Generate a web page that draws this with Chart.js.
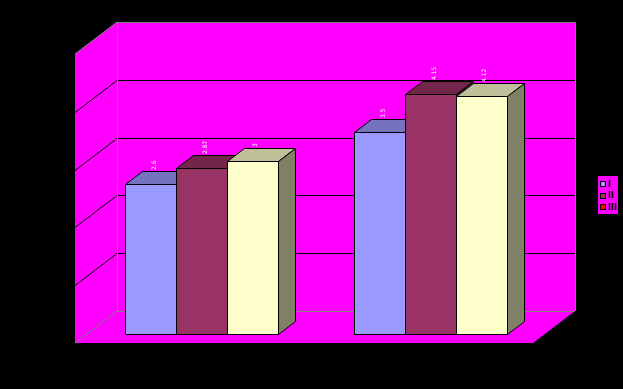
<!DOCTYPE html>
<html>
<head>
<meta charset="utf-8">
<script src="https://cdn.jsdelivr.net/npm/chart.js@4/dist/chart.umd.min.js"></script>
<style>
  html, body { margin: 0; padding: 0; background: #000; }
  canvas { display: block; }
</style>
</head>
<body>
<canvas id="c" width="623" height="389"></canvas>
<script>
const categories = ['1', '2'];
const seriesNames = ['I', 'II', 'III'];
const seriesI = [2.6, 3.5];
const seriesII = [2.87, 4.15];
const seriesIII = [3.0, 4.12];
const yTicks = [0, 1, 2, 3, 4, 5];

const frontColors = ['#9999ff', '#993366', '#ffffcc'];
const topColors = ['#7373bf', '#732649', '#bfbf99'];
const sideColors = ['#4d4d80', '#4d1a33', '#808066'];
const legendColors = ['#9999ff', '#993366', '#ff0000'];

const WALL = '#ff00ff';
const EDGE = '#808080';
const BX = 30, BY = -23;   // back wall offset from front bar plane
const FX = -12, FY = 9;    // front floor edge offset
const DX = 17, DY = -13;   // bar depth

function poly(ctx, pts, fill, stroke) {
  ctx.beginPath();
  ctx.moveTo(pts[0][0], pts[0][1]);
  for (let i = 1; i < pts.length; i++) ctx.lineTo(pts[i][0], pts[i][1]);
  ctx.closePath();
  if (fill) { ctx.fillStyle = fill; ctx.fill(); }
  if (stroke) { ctx.strokeStyle = stroke; ctx.lineWidth = 1; ctx.stroke(); }
}
function line(ctx, x1, y1, x2, y2, c) {
  ctx.beginPath();
  ctx.moveTo(x1, y1); ctx.lineTo(x2, y2);
  ctx.strokeStyle = c; ctx.lineWidth = 1; ctx.stroke();
}

const scene3d = {
  id: 'scene3d',
  beforeDraw(chart) {
    const ctx = chart.ctx;
    ctx.save();
    ctx.fillStyle = '#000';
    ctx.fillRect(0, 0, chart.width, chart.height);
    ctx.restore();
  },
  beforeDatasetsDraw(chart) {
    const ctx = chart.ctx;
    const a = chart.chartArea;
    const ys = chart.scales.y;
    const L = a.left, R = a.right;
    const T = Math.round(ys.getPixelForValue(yTicks[yTicks.length - 1]));
    const B = Math.round(ys.getPixelForValue(yTicks[0]));
    ctx.save();
    poly(ctx, [[L + BX, T + BY], [R + BX, T + BY], [R + BX, B + BY], [L + BX, B + BY]], WALL);
    poly(ctx, [[L + FX, T + FY], [L + BX, T + BY], [L + BX, B + BY], [L + FX, B + FY]], WALL);
    poly(ctx, [[L + FX, B + FY], [L + BX, B + BY], [R + BX, B + BY], [R + FX, B + FY]], WALL);
    for (let i = 1; i < yTicks.length - 1; i++) {
      const y = Math.round(ys.getPixelForValue(yTicks[i])) + 0.5;
      line(ctx, L + BX, y + BY, R + BX, y + BY, '#000');
      line(ctx, L + FX, y + FY, L + BX, y + BY, '#000');
    }
    line(ctx, L + BX + 0.5, T + BY, L + BX + 0.5, B + BY, EDGE);
    line(ctx, L + BX, T + BY + 0.5, R + BX, T + BY + 0.5, EDGE);
    line(ctx, R + BX + 0.5, T + BY, R + BX + 0.5, B + BY, EDGE);
    line(ctx, L + BX, B + BY + 0.5, R + BX, B + BY + 0.5, EDGE);
    line(ctx, L + FX, T + FY, L + BX, T + BY, EDGE);
    line(ctx, L + FX, B + FY, L + BX, B + BY, EDGE);
    ctx.restore();
  },
  afterDatasetsDraw(chart) {
    const ctx = chart.ctx;
    const n = chart.data.labels.length;
    const dsCount = chart.data.datasets.length;
    ctx.save();
    for (let j = 0; j < n; j++) {
      for (let i = 0; i < dsCount; i++) {
        const el = chart.getDatasetMeta(i).data[j];
        const l = Math.round(el.x - el.width / 2) + 0.5;
        const r = Math.round(el.x + el.width / 2) + 0.5;
        const t = Math.round(el.y) + 0.5;
        const b = Math.round(el.base) + 0.5;
        poly(ctx, [[l, t], [r, t], [r, b], [l, b]], frontColors[i], '#000');
        poly(ctx, [[l, t], [r, t], [r + DX, t + DY], [l + DX, t + DY]], topColors[i], '#000');
        poly(ctx, [[r, t], [r + DX, t + DY], [r + DX, b + DY], [r, b]], sideColors[i], '#000');
      }
    }
    // tiny rotated value labels
    for (let i = 0; i < dsCount; i++) {
      const data = chart.data.datasets[i].data;
      chart.getDatasetMeta(i).data.forEach((el, j) => {
        ctx.save();
        ctx.translate(Math.round(el.x) + 3, Math.round(el.y) + DY - 1);
        ctx.rotate(-Math.PI / 2);
        ctx.font = '6px "DejaVu Sans"';
        ctx.fillStyle = '#ffffff';
        ctx.textAlign = 'left';
        ctx.textBaseline = 'middle';
        ctx.fillText(String(data[j]), 0, 0);
        ctx.restore();
      });
    }
    ctx.restore();
  },
  afterDraw(chart) {
    const ctx = chart.ctx;
    ctx.save();
    const x0 = 598, y0 = 176, w = 20, h = 38;
    ctx.fillStyle = WALL;
    ctx.fillRect(x0, y0, w, h);
    ctx.font = 'bold 8px "DejaVu Sans"';
    ctx.textBaseline = 'middle';
    ctx.textAlign = 'left';
    chart.data.datasets.forEach((ds, i) => {
      const cy = y0 + 8 + i * 11.5;
      ctx.fillStyle = legendColors[i];
      ctx.fillRect(x0 + 2, Math.round(cy - 3), 6, 6);
      ctx.strokeStyle = '#000';
      ctx.lineWidth = 1;
      ctx.strokeRect(x0 + 2.5, Math.round(cy - 3) + 0.5, 5, 5);
      ctx.fillStyle = '#000';
      ctx.fillText(ds.label, x0 + 10, cy + 0.5);
    });
    ctx.restore();
  }
};

new Chart(document.getElementById('c'), {
  type: 'bar',
  data: {
    labels: categories,
    datasets: [
      { label: seriesNames[0], data: seriesI, backgroundColor: frontColors[0] },
      { label: seriesNames[1], data: seriesII, backgroundColor: frontColors[1] },
      { label: seriesNames[2], data: seriesIII, backgroundColor: frontColors[2] }
    ].map(d => Object.assign(d, {
      borderColor: '#000', borderWidth: 1, borderSkipped: false,
      categoryPercentage: 0.668, barPercentage: 1.0, inflateAmount: 0
    }))
  },
  options: {
    responsive: false,
    animation: false,
    devicePixelRatio: 1,
    layout: { padding: { left: 87, right: 78, top: 45, bottom: 55 } },
    plugins: { legend: { display: false }, tooltip: { enabled: false } },
    scales: {
      x: { display: false },
      y: { display: false, min: yTicks[0], max: yTicks[yTicks.length - 1],
           ticks: { stepSize: 1 } }
    }
  },
  plugins: [scene3d]
});
</script>
</body>
</html>
